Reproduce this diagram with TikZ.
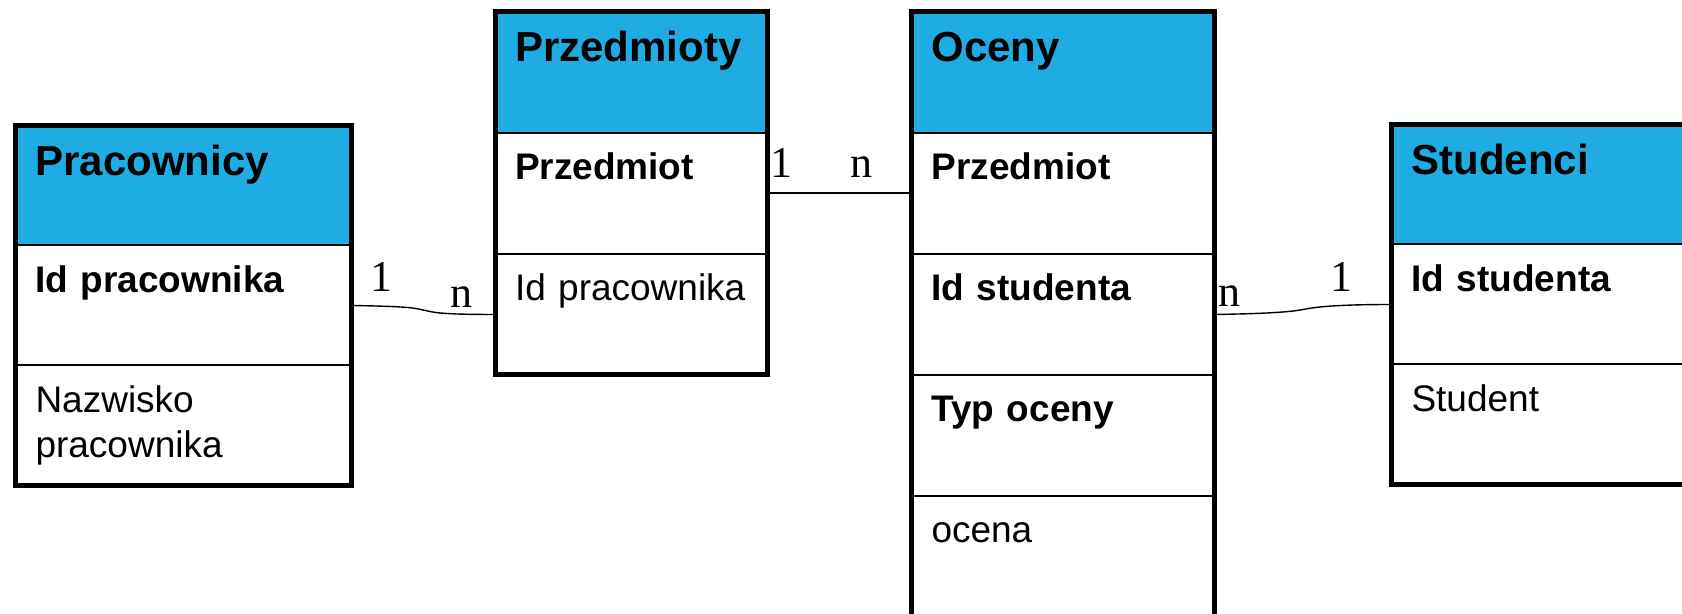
\documentclass[tikz,border=0pt]{standalone}
\usepackage{fontspec}
\setmainfont{Liberation Sans}
\newfontfamily\cardfont{Liberation Serif}
\usetikzlibrary{calc}
\definecolor{hdrblue}{RGB}{30,172,227}
\tikzset{
  rowbase/.style={draw, line width=1pt, anchor=north west, inner xsep=10pt, inner ysep=0pt, outer sep=0pt, align=left},
  hdr/.style={rowbase, fill=hdrblue, font=\fontsize{21}{25}\selectfont\bfseries, text height=25pt, text depth=#1},
  key/.style={rowbase, font=\fontsize{18.5}{22.5}\selectfont\bfseries, text height=23.5pt, text depth=#1},
  attr/.style={rowbase, font=\fontsize{18.5}{22.5}\selectfont, text height=23.5pt, text depth=#1},
  frame/.style={draw, line width=2.5pt},
  rel/.style={draw, line width=1pt},
  softrel/.style={draw, line width=0.7pt},
  card/.style={font=\cardfont\fontsize{22}{22}\selectfont, anchor=base, inner sep=0pt},
  wprac/.style={text width=148pt},
  wprz/.style={text width=116.25pt},
  woc/.style={text width=131.5pt},
  wstu/.style={text width=164.25pt},
}
\begin{document}
\begin{tikzpicture}[x=0.5pt,y=-0.5pt]
\useasboundingbox (0,0) rectangle (1682,614);

% Pracownicy
\node[hdr=35pt, wprac] (prac-h) at (15.5,125.5) {Pracownicy};
\node[key=36.5pt, wprac] (prac-id) at (prac-h.south west) {Id pracownika};
\node[attr=36.5pt, wprac] (prac-nazw) at (prac-id.south west) {Nazwisko\\pracownika};
\draw[frame] (prac-h.north west) rectangle (prac-nazw.south east);

% Przedmioty
\node[hdr=35.5pt, wprz] (prz-h) at (495,12) {Przedmioty};
\node[key=37pt, wprz] (prz-prz) at (prz-h.south west) {Przedmiot};
\node[attr=37pt, wprz] (prz-idp) at (prz-prz.south west) {Id pracownika};
\draw[frame] (prz-h.north west) rectangle (prz-idp.south east);

% Oceny
\node[hdr=35.5pt, woc] (oc-h) at (911.5,12) {Oceny};
\node[key=37pt, woc] (oc-prz) at (oc-h.south west) {Przedmiot};
\node[key=37pt, woc] (oc-ids) at (oc-prz.south west) {Id studenta};
\node[key=37pt, woc] (oc-typ) at (oc-ids.south west) {Typ oceny};
\node[attr=37pt, woc] (oc-oc) at (oc-typ.south west) {ocena};
\draw[frame] (oc-h.north west) rectangle (oc-oc.south east);

% Studenci
\node[hdr=35pt, wstu] (stu-h) at (1391.5,124.5) {Studenci};
\node[key=36.5pt, wstu] (stu-id) at (stu-h.south west) {Id studenta};
\node[attr=36.5pt, wstu] (stu-st) at (stu-id.south west) {Student};
\draw[frame] (stu-h.north west) rectangle (stu-st.south east);

% Relationships
\draw[softrel] (prac-id.east) .. controls +(60,1) and +(-10,-2) .. ($(prac-id.east)!0.5!(prz-idp.west)$) .. controls +(10,2) and +(-60,0) .. (prz-idp.west);
\draw[rel] (prz-prz.east) -- (oc-prz.west);
\draw[softrel] (oc-ids.east) .. controls +(60,-1) and +(-10,2) .. ($(oc-ids.east)!0.5!(stu-id.west)$) .. controls +(10,-2) and +(-60,0) .. (stu-id.west);

% Cardinalities
\node[card] (c-prac) at (381.5,292) {1};
\node[card] (c-przn) at (461.5,308) {n};
\node[card] (c-prz1) at (781,178) {1};
\node[card] (c-ocn) at (861.5,178) {n};
\node[card] (c-ocsn) at (1229,307) {n};
\node[card] (c-stu) at (1341,292) {1};
\end{tikzpicture}
\end{document}
